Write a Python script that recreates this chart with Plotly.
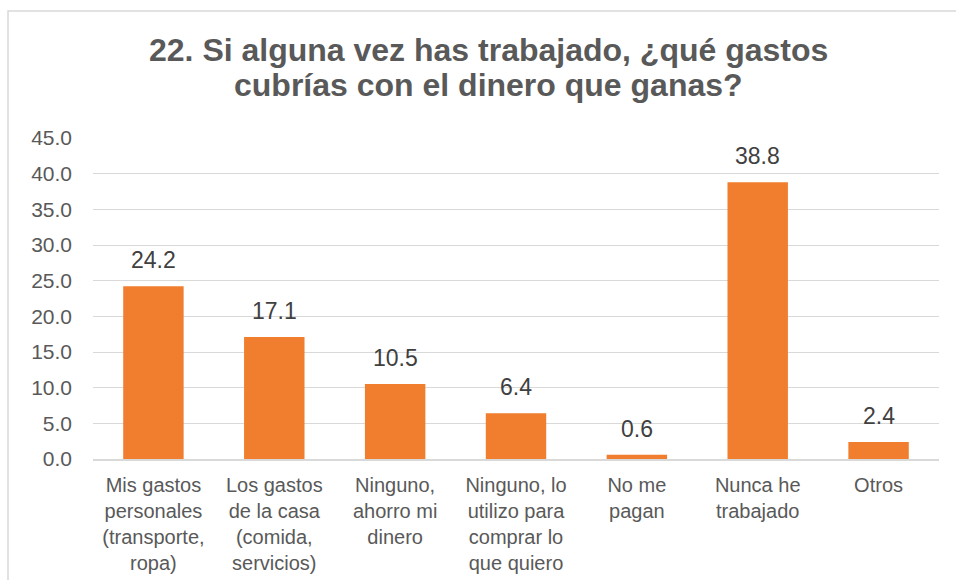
import plotly.graph_objects as go

title_lines = [
    "22. Si alguna vez has trabajado, ¿qué gastos",
    "cubrías con el dinero que ganas?",
]

categories = [
    "Mis gastos<br>personales<br>(transporte,<br>ropa)",
    "Los gastos<br>de la casa<br>(comida,<br>servicios)",
    "Ninguno,<br>ahorro mi<br>dinero",
    "Ninguno, lo<br>utilizo para<br>comprar lo<br>que quiero",
    "No me<br>pagan",
    "Nunca he<br>trabajado",
    "Otros",
]
values = [24.2, 17.1, 10.5, 6.4, 0.6, 38.8, 2.4]
y_ticks = [0, 5, 10, 15, 20, 25, 30, 35, 40, 45]

FONT = "Liberation Sans, Arial, sans-serif"
GREY = "#595959"

fig = go.Figure()
fig.add_trace(go.Bar(
    x=categories,
    y=values,
    width=0.5,
    marker=dict(color="#F07E2E", line=dict(width=0)),
    hovertemplate="%{y:.1f}<extra></extra>",
))

for c, v in zip(categories, values):
    fig.add_annotation(
        x=c, y=v, xref="x", yref="y",
        text=f"{v:.1f}", showarrow=False,
        yanchor="bottom", yshift=11,
        font=dict(family=FONT, size=23, color="#404040"),
    )

L, R, T, B = 93, 17, 138, 121
W, H = 956, 580
pw, ph = W - L - R, H - T - B

def py(pix):
    return (H - B - pix) / ph

def px(pix):
    return (pix - L) / pw

# chart border (cropped at right and bottom)
fig.add_shape(
    type="rect", xref="paper", yref="paper",
    x0=px(8), x1=px(W + 20),
    y0=py(H + 20), y1=py(11),
    line=dict(color="#D9D9D9", width=1.5),
    fillcolor="rgba(0,0,0,0)", layer="below",
)

for txt, yc in zip(title_lines, [49.5, 85.0]):
    fig.add_annotation(
        x=px(488), y=py(yc), xref="paper", yref="paper",
        text=txt, showarrow=False,
        xanchor="center", yanchor="middle",
        font=dict(family=FONT, size=32, color=GREY, weight="bold"),
    )

fig.update_layout(
    width=W, height=H,
    margin=dict(l=L, r=R, t=T, b=B, pad=0, autoexpand=False),
    paper_bgcolor="white", plot_bgcolor="white",
    showlegend=False,
    font=dict(family=FONT, color=GREY),
)
fig.update_yaxes(
    range=[0, 45],
    tickvals=y_ticks,
    ticktext=[f"{t:.1f}" for t in y_ticks],
    tickfont=dict(family=FONT, size=21, color=GREY),
    showgrid=True, gridcolor="#D9D9D9", gridwidth=1,
    zeroline=False, showline=False,
    ticks="", ticklabelstandoff=20, automargin=False,
)
fig.update_xaxes(
    tickfont=dict(family=FONT, size=20, color=GREY),
    showline=True, linecolor="#D9D9D9", linewidth=1.5,
    ticks="", ticklabelstandoff=7, automargin=False,
)

fig.write_html(
    "out.html",
    config={"displayModeBar": False},
    post_script="document.body.style.margin='0';document.body.style.overflow='hidden';",
)
